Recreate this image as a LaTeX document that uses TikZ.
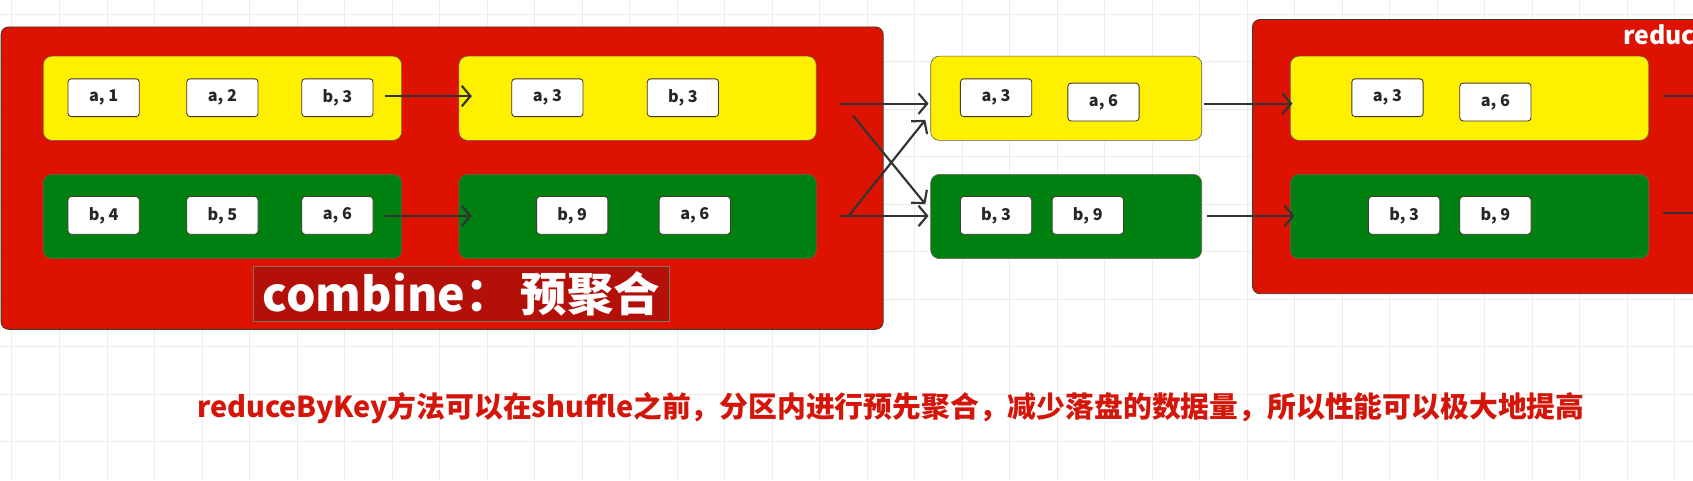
\documentclass[tikz,border=0pt]{standalone}
\usepackage{fontspec}
\setmainfont{Noto Sans CJK SC}
\usetikzlibrary{arrows.meta}
\definecolor{bigred}{RGB}{222,18,0}
\definecolor{ylw}{RGB}{255,240,0}
\definecolor{grn}{RGB}{0,128,16}
\definecolor{darkred}{RGB}{180,16,10}
\definecolor{txtred}{RGB}{212,22,10}
\definecolor{edgec}{RGB}{70,55,40}
\definecolor{gridc}{RGB}{236,236,236}
\begin{document}
\begin{tikzpicture}[x=1pt,y=-1pt,
 outer/.style={draw=edgec, line width=0.8pt, fill=bigred, rounded corners=7pt, inner sep=0pt},
 part/.style={draw=edgec!80, line width=0.6pt, rounded corners=8pt, inner sep=0pt, minimum height=78pt},
 ypart/.style={part, fill=ylw},
 gpart/.style={part, fill=grn},
 kv/.style={draw=edgec, line width=0.8pt, fill=white, rounded corners=3pt, minimum width=66pt, minimum height=35pt, inner sep=0pt, font=\bfseries\fontsize{15}{15}\selectfont, text=black!85},
 flow/.style={draw=black!80, line width=2pt, -{Straight Barb[length=8pt,width=19pt,line width=2pt]}},
 plain/.style={draw=black!80, line width=2pt},
 ]
\clip (0,0) rectangle (1568,445);
\fill[white] (0,0) rectangle (1568,445);
\foreach \gx in {11,55,...,1568} \draw[gridc, line width=0.7pt] (\gx,0) -- (\gx,445);
\foreach \gy in {13,57,...,445} \draw[gridc, line width=0.7pt] (0,\gy) -- (1568,\gy);

% partition containers
\node[outer, minimum width=817pt, minimum height=280pt] (L) at (409.5,165) {};
\node[outer, minimum width=440pt, minimum height=254pt] (R) at (1380,145) {};
\node[anchor=base west, text=white, font=\bfseries\fontsize{23}{23}\selectfont, inner sep=0pt] (rlabel) at (1503,41) {reduc};

% stripes
\node[ypart, minimum width=332pt] (y1) at (206,91) {};
\node[gpart, minimum width=332pt] (g1) at (206,200.5) {};
\node[ypart, minimum width=331pt] (y2) at (590.5,91) {};
\node[gpart, minimum width=331pt] (g2) at (590.5,200.5) {};
\node[ypart, minimum width=251pt] (y3) at (987.5,91) {};
\node[gpart, minimum width=251pt] (g3) at (987.5,200.5) {};
\node[ypart, minimum width=332pt] (y4) at (1361,91) {};
\node[gpart, minimum width=332pt] (g4) at (1361,200.5) {};

% key-value boxes
\node[kv] (k11) at (96,90.5) {a, 1};
\node[kv] (k12) at (206,90.5) {a, 2};
\node[kv] (k13) at (312.5,90.5) {b, 3};
\node[kv] (k21) at (96,199.5) {b, 4};
\node[kv] (k22) at (206,199.5) {b, 5};
\node[kv] (k23) at (312.5,199.5) {a, 6};
\node[kv] (c11) at (507,90.5) {a, 3};
\node[kv] (c12) at (632.5,90.5) {b, 3};
\node[kv] (c21) at (530,199.5) {b, 9};
\node[kv] (c22) at (643.5,199.5) {a, 6};
\node[kv] (s11) at (922.5,90.5) {a, 3};
\node[kv] (s12) at (1022,94.5) {a, 6};
\node[kv] (s21) at (922.5,199.5) {b, 3};
\node[kv] (s22) at (1007.5,199.5) {b, 9};
\node[kv] (r11) at (1285,90.5) {a, 3};
\node[kv] (r12) at (1385,94.5) {a, 6};
\node[kv] (r21) at (1300.5,199.5) {b, 3};
\node[kv] (r22) at (1385,199.5) {b, 9};

% combine label
\node[draw=edgec!70, line width=0.5pt, fill=darkred, minimum width=385pt, minimum height=51pt, inner sep=0pt,
      text=white, font=\bfseries\fontsize{43}{43}\selectfont] (comb) at (427.5,272.5) {combine：\hspace{0.2em}预聚合};

% arrow coordinates
\coordinate (a1s) at (357,89);   \coordinate (a1e) at (437,89);
\coordinate (a2s) at (357,200);  \coordinate (a2e) at (437,200);
\coordinate (m1s) at (778,96);   \coordinate (m1e) at (860,96);
\coordinate (m2s) at (778,200);  \coordinate (m2e) at (860,200);
\coordinate (d1s) at (790,107);  \coordinate (d1e) at (857,189);
\coordinate (d2s) at (786,200);  \coordinate (d2e) at (857,111);
\coordinate (n1s) at (1115,96);  \coordinate (n1e) at (1197,96);
\coordinate (n2s) at (1118,200); \coordinate (n2e) at (1199,200);
\coordinate (o1s) at (1540,89);  \coordinate (o1e) at (1575,89);
\coordinate (o2s) at (1540,197); \coordinate (o2e) at (1575,197);

\draw[flow] (a1s) -- (a1e);
\draw[flow] (a2s) -- (a2e);
\draw[flow] (m1s) -- (m1e);
\draw[flow] (m2s) -- (m2e);
\draw[flow] (d1s) -- (d1e);
\draw[flow] (d2s) -- (d2e);
\draw[flow] (n1s) -- (n1e);
\draw[flow] (n2s) -- (n2e);
\draw[plain] (o1s) -- (o1e);
\draw[plain] (o2s) -- (o2e);

% caption
\node[text=txtred, font=\bfseries\fontsize{26.7}{26.7}\selectfont, inner sep=0pt] (cap) at (825,378)
  {reduceByKey方法可以在shuffle之前，分区内进行预先聚合，减少落盘的数据量，所以性能可以极大地提高};
\end{tikzpicture}
\end{document}
